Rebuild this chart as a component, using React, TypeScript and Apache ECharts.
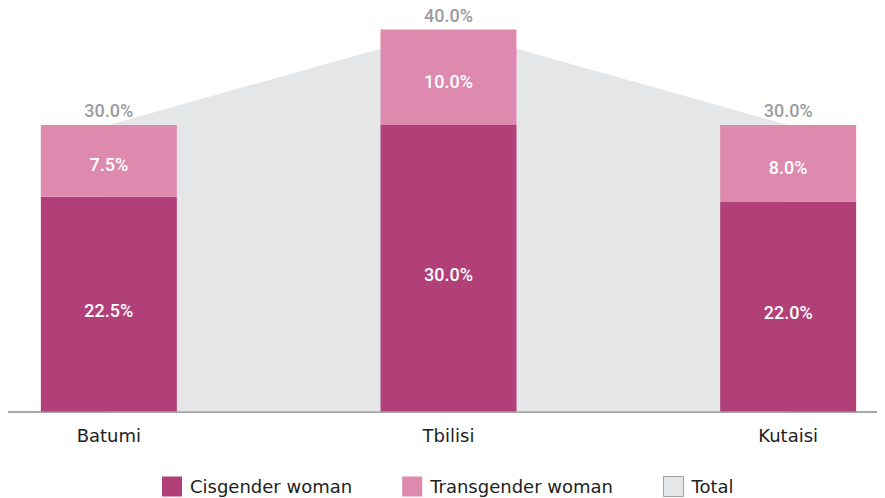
import React, { useEffect, useRef } from "react";
import * as echarts from "echarts";

const categories = ["Batumi", "Tbilisi", "Kutaisi"];
const cisgender = [22.5, 30.0, 22.0];
const transgender = [7.5, 10.0, 8.0];
const total = [30.0, 40.0, 30.0];

const CIS = "#b04077";
const TRANS = "#dd8aae";
const GRAY = "#e5e6e8";
const NARROW = "Roboto, 'DejaVu Sans', sans-serif";
const SANS = "'DejaVu Sans', sans-serif";

export default function App() {
  const ref = useRef<HTMLDivElement>(null);
  useEffect(() => {
    if (!ref.current) return;
    const chart = echarts.init(ref.current, undefined, { renderer: "svg" });
    const pct = (p: any) => Number(p.value).toFixed(1) + "%";
    chart.setOption({
      animation: false,
      grid: {
        left: -69,
        width: 1019,
        top: 29.5,
        bottom: 86.5,
        containLabel: false,
        outerBoundsMode: "none",
      },
      legend: {
        left: 154,
        top: 476,
        padding: 0,
        icon: "rect",
        itemWidth: 20,
        itemHeight: 20,
        itemGap: 50,
        textStyle: {
          fontFamily: SANS,
          fontSize: 18,
          color: "#222",
          padding: [0, 0, 0, 3],
        },
        data: [
          { name: "Cisgender woman", itemStyle: { color: CIS } },
          { name: "Transgender woman", itemStyle: { color: TRANS } },
          { name: "Total", itemStyle: { color: GRAY, borderColor: "#a0a0a0", borderWidth: 1, opacity: 1 } },
        ],
      },
      xAxis: {
        type: "category",
        data: categories,
        boundaryGap: true,
        axisLine: { show: true, lineStyle: { color: "#8a8a8a", width: 1.5 } },
        axisTick: { show: false },
        axisLabel: { fontFamily: SANS, fontSize: 18, color: "#222", margin: 15 },
      },
      yAxis: {
        type: "value",
        min: 0,
        max: 40,
        show: false,
        splitLine: { show: false },
      },
      series: [
        {
          name: "Total",
          type: "line",
          data: total,
          z: 1,
          color: GRAY,
          symbol: "circle",
          symbolSize: 1,
          itemStyle: { color: "rgba(0,0,0,0)" },
          lineStyle: { width: 0, color: GRAY },
          areaStyle: { color: GRAY, opacity: 1 },
          label: {
            show: true,
            position: "top",
            distance: 5,
            formatter: pct,
            fontFamily: NARROW,
            fontWeight: 500,
            fontSize: 18,
            color: "#9a9ca0",
          },
        },
        {
          name: "Cisgender woman",
          type: "bar",
          stack: "a",
          data: cisgender,
          barWidth: 136,
          z: 2,
          itemStyle: { color: CIS },
          label: {
            show: true,
            position: "inside",
            offset: [0, 6],
            formatter: pct,
            fontFamily: NARROW,
            fontWeight: 500,
            fontSize: 18,
            color: "#fff",
          },
        },
        {
          name: "Transgender woman",
          type: "bar",
          stack: "a",
          data: transgender,
          barWidth: 136,
          z: 2,
          itemStyle: { color: TRANS },
          label: {
            show: true,
            position: "inside",
            offset: [0, 4],
            formatter: pct,
            fontFamily: NARROW,
            fontWeight: 500,
            fontSize: 18,
            color: "#fff",
          },
        },
      ],
    });
    return () => chart.dispose();
  }, []);
  return <div ref={ref} style={{ width: 877, height: 498, marginTop: -8 }} />;
}
